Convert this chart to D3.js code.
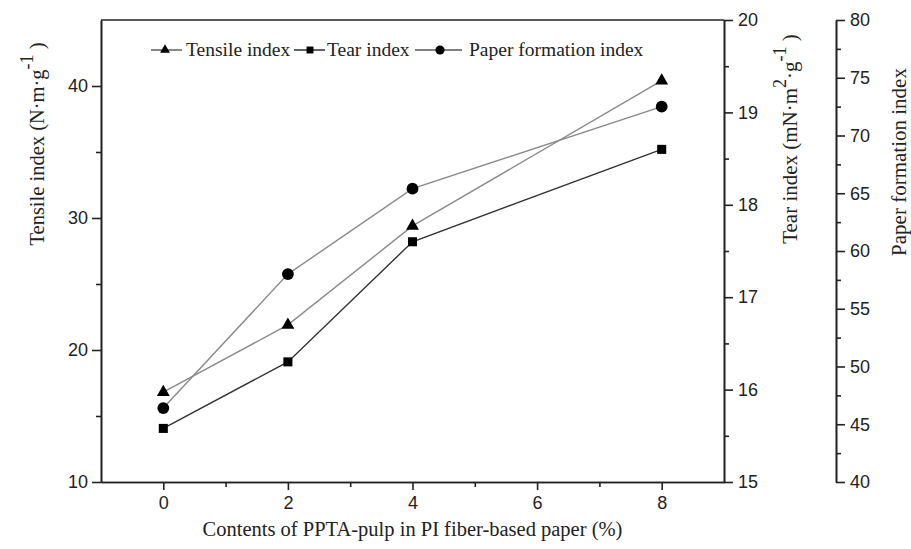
<!DOCTYPE html>
<html><head><meta charset="utf-8">
<script src="https://cdn.jsdelivr.net/npm/d3@7/dist/d3.min.js"></script>
<style>
body{margin:0;background:#fff;}
svg{display:block;}
.tick text{font-family:"Liberation Sans",Arial,sans-serif;font-size:18px;fill:#222;}
.serif{font-family:"Liberation Serif","Times New Roman",serif;fill:#222;}
</style></head>
<body>
<svg id="c" width="911" height="549"></svg>
<script>
const contents = [0, 2, 4, 8];
const tensile = [16.8, 21.9, 29.4, 40.4];
const tear = [15.58, 16.30, 17.60, 18.60];
const formation = [46.4, 58.0, 65.4, 72.5];
const xTicks = [0, 2, 4, 6, 8];
const xMinor = [1, 3, 5, 7];
const tensileTicks = [10, 20, 30, 40];
const tensileMinor = [15, 25, 35];
const tearTicks = [15, 16, 17, 18, 19, 20];
const tearMinor = [15.5, 16.5, 17.5, 18.5, 19.5];
const formTicks = [40, 45, 50, 55, 60, 65, 70, 75, 80];
const formMinor = [42.5, 47.5, 52.5, 57.5, 62.5, 67.5, 72.5, 77.5];

const svg = d3.select("#c");
const L = 101, R = 724, T = 20, B = 482, R2 = 836;
const x = d3.scaleLinear().domain([-1, 9]).range([L, R]);
const yT = d3.scaleLinear().domain([10, 45]).range([B, T]);
const yR = d3.scaleLinear().domain([15, 20]).range([B, T]);
const yF = d3.scaleLinear().domain([40, 80]).range([B, T]);
const fmt = d3.format("d");

function style(g){
  g.selectAll("path.domain").attr("stroke","#222").attr("stroke-width",1.6);
  g.selectAll(".tick line").attr("stroke","#222").attr("stroke-width",1.6);
}

// x axis
const gx = svg.append("g").attr("transform",`translate(0,${B})`)
  .call(d3.axisBottom(x).tickValues(xTicks).tickSize(8).tickSizeOuter(0).tickPadding(6).tickFormat(fmt));
style(gx);
const gxm = svg.append("g").attr("transform",`translate(0,${B})`)
  .call(d3.axisBottom(x).tickValues(xMinor).tickSize(5).tickSizeOuter(0).tickFormat(""));
style(gxm);

// left axis
const gl = svg.append("g").attr("transform",`translate(${L},0)`)
  .call(d3.axisLeft(yT).tickValues(tensileTicks).tickSize(9).tickSizeOuter(0).tickPadding(4).tickFormat(fmt));
style(gl);
const glm = svg.append("g").attr("transform",`translate(${L},0)`)
  .call(d3.axisLeft(yT).tickValues(tensileMinor).tickSize(5).tickSizeOuter(0).tickFormat(""));
style(glm);

// tear axis
const gr = svg.append("g").attr("transform",`translate(${R},0)`)
  .call(d3.axisRight(yR).tickValues(tearTicks).tickSize(9).tickSizeOuter(0).tickPadding(5).tickFormat(fmt));
style(gr);
const grm = svg.append("g").attr("transform",`translate(${R},0)`)
  .call(d3.axisRight(yR).tickValues(tearMinor).tickSize(5).tickSizeOuter(0).tickFormat(""));
style(grm);

// formation axis
const gf = svg.append("g").attr("transform",`translate(${R2},0)`)
  .call(d3.axisRight(yF).tickValues(formTicks).tickSize(9).tickSizeOuter(0).tickPadding(5).tickFormat(fmt));
style(gf);
const gfm = svg.append("g").attr("transform",`translate(${R2},0)`)
  .call(d3.axisRight(yF).tickValues(formMinor).tickSize(5).tickSizeOuter(0).tickFormat(""));
style(gfm);

// top frame
svg.append("line").attr("x1",x(-1)).attr("x2",x(9)).attr("y1",yT(45)).attr("y2",yT(45))
  .attr("stroke","#222").attr("stroke-width",1.6);

// series
const series = [
  {vals: tensile, y: yT, sym: d3.symbolTriangle, size: 72, line: "#8a8a8a", legSize: 42},
  {vals: tear, y: yR, sym: d3.symbolSquare, size: 82, line: "#333", legSize: 48},
  {vals: formation, y: yF, sym: d3.symbolCircle, size: 110, line: "#8a8a8a", legSize: 65}
];
series.forEach(s=>{
  const pts = contents.map((c,i)=>[x(c), s.y(s.vals[i])]);
  svg.append("path").attr("d", d3.line()(pts)).attr("fill","none")
    .attr("stroke", s.line).attr("stroke-width",1.4);
  svg.selectAll(null).data(pts).enter().append("path")
    .attr("d", d3.symbol().type(s.sym).size(s.size))
    .attr("transform", d=>`translate(${d[0]},${d[1]})`)
    .attr("fill","#000");
});

// legend
const legY = 50;
const leg = [
  {x1:151, x2:182, sx:165, text:"Tensile index", tx:186, s:series[0]},
  {x1:294, x2:325, sx:310, text:"Tear index", tx:327, s:series[1]},
  {x1:415, x2:462, sx:440, text:"Paper formation index", tx:469, s:series[2]}
];
leg.forEach(l=>{
  svg.append("line").attr("x1",l.x1).attr("x2",l.x2).attr("y1",legY).attr("y2",legY)
    .attr("stroke", l.s.line === "#333" ? "#222" : "#555").attr("stroke-width",1.4);
  svg.append("path").attr("d", d3.symbol().type(l.s.sym).size(l.s.legSize))
    .attr("transform",`translate(${l.sx},${legY})`).attr("fill","#000");
  svg.append("text").attr("class","serif").attr("x",l.tx).attr("y",legY+6)
    .attr("font-size","19.5px").text(l.text);
});

// axis titles
const t1 = svg.append("text").attr("class","serif").attr("font-size","20.5px")
  .attr("transform","translate(44,144) rotate(-90)").attr("text-anchor","middle");
t1.append("tspan").text("Tensile index (N·m·g");
t1.append("tspan").attr("dy",-11).attr("font-size","18px").text("-1");
t1.append("tspan").attr("dy",11).text(" )");

const t2 = svg.append("text").attr("class","serif").attr("font-size","21px")
  .attr("transform","translate(797,139) rotate(-90)").attr("text-anchor","middle");
t2.append("tspan").text("Tear index (mN·m");
t2.append("tspan").attr("dy",-11).attr("font-size","18px").text("2");
t2.append("tspan").attr("dy",11).text("·g");
t2.append("tspan").attr("dy",-11).attr("font-size","18px").text("-1");
t2.append("tspan").attr("dy",11).text(" )");

svg.append("text").attr("class","serif").attr("font-size","21px")
  .attr("transform","translate(906,162) rotate(-90)").attr("text-anchor","middle")
  .text("Paper formation index");

svg.append("text").attr("class","serif").attr("font-size","20.5px")
  .attr("x", x(4)).attr("y", 536).attr("text-anchor","middle")
  .text("Contents of PPTA-pulp in PI fiber-based paper (%)");
</script>
</body></html>
